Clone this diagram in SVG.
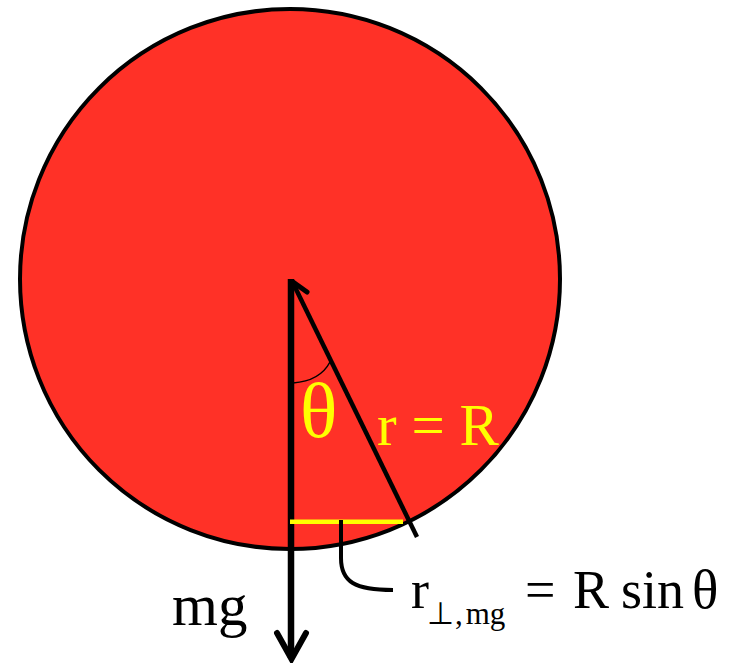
<svg xmlns="http://www.w3.org/2000/svg" width="731" height="663" viewBox="0 0 731 663">
<style>
.ser{font-family:"Liberation Serif","Times New Roman",serif}
.yel{fill:#FFFF00}
.blk{fill:#000000}
.ln{stroke:#000;fill:none}
</style>
<rect width="731" height="663" fill="#ffffff"/>
<g id="disk">
<circle cx="290" cy="279" r="270" fill="#FF3127" stroke="#000" stroke-width="4"/>
</g>
<g id="connectors">
<line class="ln" x1="291" y1="279" x2="291" y2="658" stroke-width="6.5"/>
<polyline class="ln" points="277,633 291.5,659 306,633" stroke-width="6" stroke-linecap="round" stroke-linejoin="miter"/>
<line class="ln" x1="292" y1="281" x2="417" y2="537" stroke-width="4.5"/>
<line class="ln" x1="293" y1="282" x2="307" y2="292" stroke-width="5" stroke-linecap="round"/>
<path class="ln" d="M293,383 Q320,381 330,362" stroke-width="1.5"/>
<line x1="290" y1="521.7" x2="403" y2="521.7" stroke="#FFFF00" stroke-width="4.5"/>
<path class="ln" d="M341,520 L341,558 C341,582 355,590 393,590" stroke-width="4"/>
</g>
<g id="theta-label">
<text class="ser yel" x="300" y="437" font-size="78">θ</text>
</g>
<g id="radius-label">
<text class="ser yel" x="377" y="445" font-size="59">r = R</text>
</g>
<g id="mg-label">
<text class="ser blk" x="172" y="625" font-size="59">mg</text>
</g>
<g id="rperp-label">
<text class="ser blk" x="411" y="608" font-size="54">r</text>
<text class="ser blk" x="427" y="624" font-size="31">⊥<tspan dx="1">,</tspan><tspan dx="3">mg</tspan></text>
<text class="ser blk" x="525" y="608" font-size="54">=</text>
<text class="ser blk" x="573" y="608" font-size="54">R</text>
<text class="ser blk" x="621" y="608" font-size="54">sin</text>
<text class="ser blk" x="692" y="608" font-size="55">θ</text>
</g>
</svg>
